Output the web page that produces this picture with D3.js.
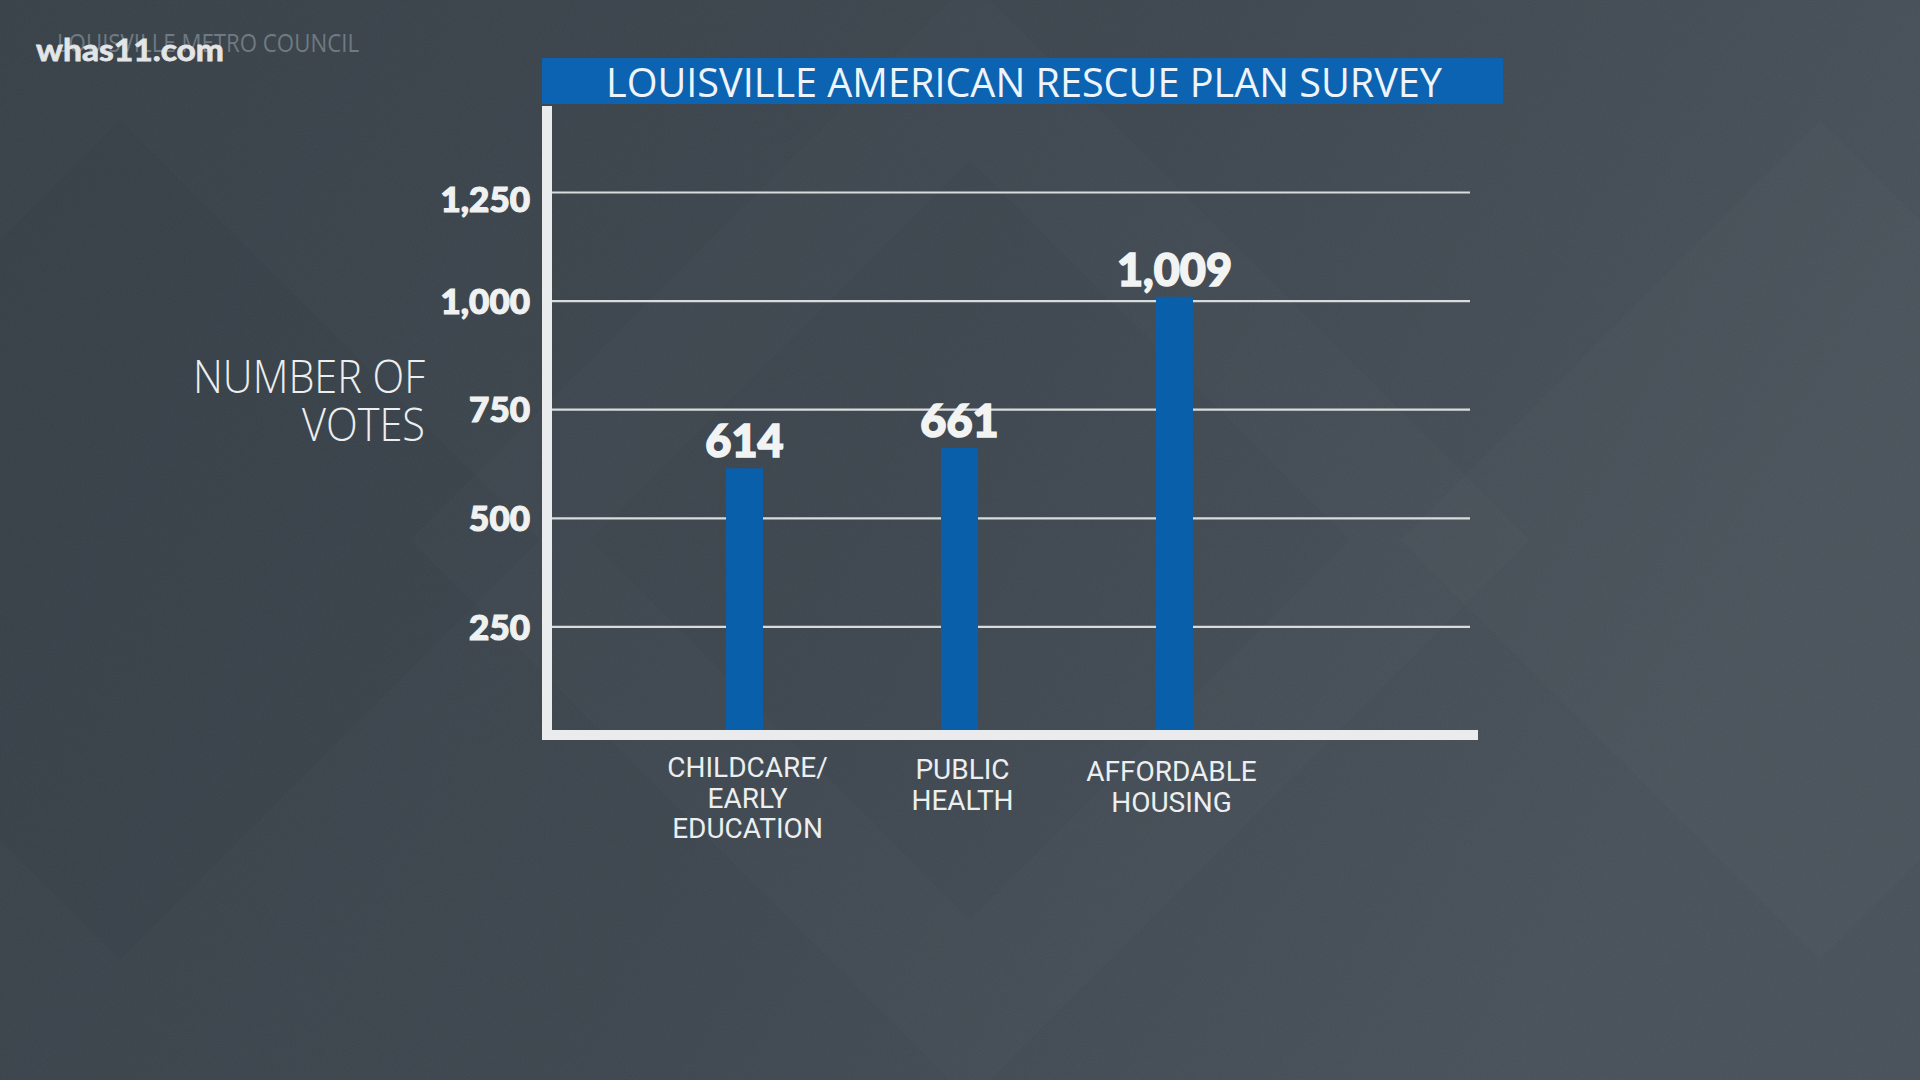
<!DOCTYPE html>
<html>
<head>
<meta charset="utf-8">
<script src="https://cdn.jsdelivr.net/npm/d3@7"></script>
<style>
  html, body { margin: 0; padding: 0; background: #3c454d; }
  svg { display: block; }
</style>
</head>
<body>
<svg id="chart" width="1920" height="1080"></svg>
<script>
// ---- data ----
const categories = ["CHILDCARE/ EARLY EDUCATION", "PUBLIC HEALTH", "AFFORDABLE HOUSING"];
const categoryLines = [["CHILDCARE/", "EARLY", "EDUCATION"], ["PUBLIC", "HEALTH"], ["AFFORDABLE", "HOUSING"]];
const votes = [614, 661, 1009];
const yTicks = [250, 500, 750, 1000, 1250];
const title = "LOUISVILLE AMERICAN RESCUE PLAN SURVEY";
const yTitleLines = ["NUMBER OF", "VOTES"];
const sourceText = "LOUISVILLE METRO COUNCIL";
const brandText = "whas11.com";

// ---- setup ----
const svg = d3.select("#chart");
const defs = svg.append("defs");

const bg = defs.append("linearGradient").attr("id", "bg").attr("x1", "0").attr("y1", "0").attr("x2", "1").attr("y2", "0.3");
bg.append("stop").attr("offset", "0").attr("stop-color", "#384148");
bg.append("stop").attr("offset", "0.55").attr("stop-color", "#3d464e");
bg.append("stop").attr("offset", "1").attr("stop-color", "#48515a");

const noise = defs.append("filter").attr("id", "noise").attr("x", 0).attr("y", 0).attr("width", "100%").attr("height", "100%");
noise.append("feTurbulence").attr("type", "fractalNoise").attr("baseFrequency", "0.9").attr("numOctaves", 2).attr("seed", 3);
noise.append("feColorMatrix").attr("type", "matrix")
  .attr("values", "0 0 0 0 1  0 0 0 0 1  0 0 0 0 1  0 0 0 0.05 0");

svg.append("rect").attr("width", 1920).attr("height", 1080).attr("fill", "url(#bg)");

// faint decorative diamonds
const deco = svg.append("g");
[[970, 540, 560, "rgba(255,255,255,0.012)"], [970, 540, 380, "rgba(0,0,0,0.025)"],
 [120, 540, 420, "rgba(0,0,0,0.02)"], [1820, 540, 420, "rgba(255,255,255,0.01)"]].forEach(([cx, cy, r, c]) => {
  deco.append("path")
    .attr("d", `M${cx},${cy - r} L${cx + r},${cy} L${cx},${cy + r} L${cx - r},${cy} Z`)
    .attr("fill", c);
});
svg.append("rect").attr("width", 1920).attr("height", 1080).attr("filter", "url(#noise)").attr("opacity", 0.8);

// ---- scales ----
const y = d3.scaleLinear().domain([0, 1250]).range([735, 192]);
const x = d3.scaleBand().domain(categories).range([637, 1282]);
const barWidth = 37;

// ---- source / brand ----
svg.append("text").attr("x", 57).attr("y", 52)
  .attr("font-family", "'Open Sans', sans-serif").attr("font-size", 25).attr("font-weight", 400)
  .attr("fill", "#6f7a82").attr("textLength", 302).attr("lengthAdjust", "spacingAndGlyphs")
  .text(sourceText);
svg.append("text").attr("x", 36).attr("y", 61)
  .attr("font-family", "Lato, sans-serif").attr("font-size", 30).attr("font-weight", 700)
  .attr("fill", "#e3e5e6").attr("stroke", "#e3e5e6").attr("stroke-width", 0.8)
  .attr("textLength", 188).attr("lengthAdjust", "spacingAndGlyphs")
  .text(brandText);

// ---- title bar ----
svg.append("rect").attr("x", 542).attr("y", 58).attr("width", 961).attr("height", 46).attr("fill", "#0b63b1");
svg.append("text").attr("x", 606).attr("y", 97)
  .attr("font-family", "'Open Sans', sans-serif").attr("font-size", 41).attr("font-weight", 400)
  .attr("fill", "#eef4fa").attr("textLength", 836).attr("lengthAdjust", "spacingAndGlyphs")
  .text(title);

// ---- gridlines + y tick labels ----
const yAxis = d3.axisLeft(y).tickValues(yTicks).tickFormat(d3.format(","))
  .tickSize(-(1470 - 552)).tickPadding(22);
const gy = svg.append("g").attr("transform", "translate(552,0)").call(yAxis);
gy.select(".domain").remove();
gy.selectAll(".tick line").attr("stroke", "#d9dcdd").attr("stroke-width", 2.2);
gy.selectAll(".tick text")
  .attr("font-family", "Lato, sans-serif").attr("font-size", 35).attr("font-weight", 900)
  .attr("fill", "#f0f1f1").attr("stroke", "#f0f1f1").attr("stroke-width", 1.2)
  .attr("dy", d => d === 1250 ? "0.55em" : "0.36em");

// ---- y title ----
const yTitle = svg.append("text")
  .attr("font-family", "'Open Sans', sans-serif").attr("font-size", 46).attr("font-weight", 300)
  .attr("fill", "#eceeef").attr("text-anchor", "end");
const yTitleWidths = [232, 123];
yTitleLines.forEach((t, i) => {
  yTitle.append("tspan").attr("x", 425).attr("y", 393 + i * 48)
    .attr("textLength", yTitleWidths[i]).attr("lengthAdjust", "spacingAndGlyphs").text(t);
});

// ---- bars ----
svg.append("g").selectAll("rect").data(votes).join("rect")
  .attr("x", (d, i) => x(categories[i]) + x.bandwidth() / 2 - barWidth / 2)
  .attr("y", d => y(d))
  .attr("width", barWidth)
  .attr("height", d => y(0) - y(d))
  .attr("fill", "#0a5fab");

// value labels
svg.append("g").selectAll("text").data(votes).join("text")
  .attr("x", (d, i) => x(categories[i]) + x.bandwidth() / 2)
  .attr("y", d => y(d) - 11)
  .attr("text-anchor", "middle")
  .attr("font-family", "Lato, sans-serif").attr("font-size", 45).attr("font-weight", 900)
  .attr("fill", "#f2f3f3").attr("stroke", "#f2f3f3").attr("stroke-width", 1.6)
  .text(d => d3.format(",")(d));

// ---- axis lines ----
svg.append("rect").attr("x", 542).attr("y", 106).attr("width", 10).attr("height", 634).attr("fill", "#e9ebec");
svg.append("rect").attr("x", 542).attr("y", 730).attr("width", 936).attr("height", 10).attr("fill", "#e9ebec");

// ---- category labels ----
const catG = svg.append("g");
categories.forEach((c, i) => {
  const t = catG.append("text")
    .attr("text-anchor", "middle")
    .attr("font-family", "Roboto, sans-serif").attr("font-size", 28).attr("font-weight", 400)
    .attr("fill", "#eceeef");
  categoryLines[i].forEach((line, j) => {
    t.append("tspan").attr("x", x(c) + x.bandwidth() / 2 + (i === 2 ? -3 : 3)).attr("y", 777 + i * 2 + j * 30.5).text(line);
  });
});
</script>
</body>
</html>
